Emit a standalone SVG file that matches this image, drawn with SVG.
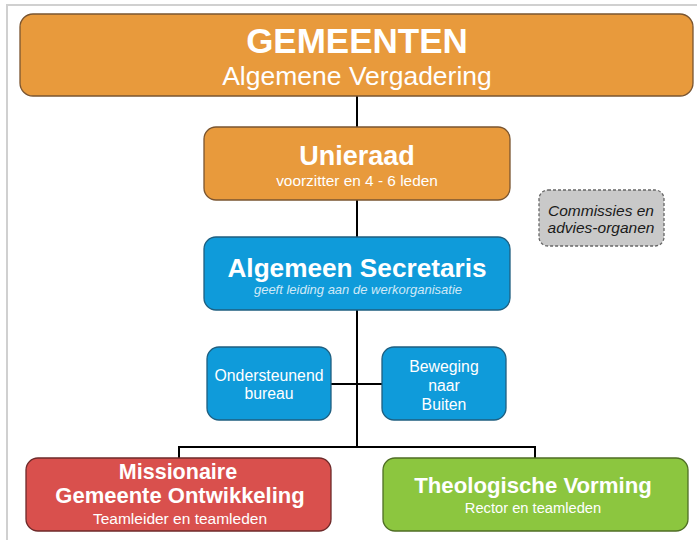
<svg xmlns="http://www.w3.org/2000/svg" width="697" height="540" viewBox="0 0 697 540">
<style>
text{font-family:"Liberation Sans",Arial,sans-serif;text-anchor:middle;fill:#fff}
.b{font-weight:bold}
.org{fill:#E89A3C;stroke:#7a5530;stroke-width:1.3}
.blu{fill:#0F9BDA;stroke:#1f5f80;stroke-width:1.3}
.red{fill:#D9504D;stroke:#6e2a2a;stroke-width:1.3}
.grn{fill:#8CC63F;stroke:#4f6e25;stroke-width:1.3}
.gry{fill:#C9C9C9;stroke:#666;stroke-width:1.3;stroke-dasharray:3 2}
.ln{stroke:#000;stroke-width:2;fill:none}
</style>
<rect x="0" y="0" width="697" height="540" fill="#fff"/>
<path d="M7,540 V5 H697" fill="none" stroke="#d0d0d0" stroke-width="2"/>
<g id="connectors">
<path class="ln" d="M357,96 V127 M357,200 V237 M357,310 V447 M331,384 H382 M179,458 V447 H535 V458"/>
</g>
<g id="gemeenten">
<rect class="org" x="20" y="14" width="673" height="82" rx="13"/>
<text class="b" x="357" y="53" font-size="35">GEMEENTEN</text>
<text x="357" y="85" font-size="26.5">Algemene Vergadering</text>
</g>
<g id="unieraad">
<rect class="org" x="204" y="127" width="306" height="73" rx="12"/>
<text class="b" x="357" y="165" font-size="27">Unieraad</text>
<text x="357" y="186" font-size="15.4">voorzitter en 4 - 6 leden</text>
</g>
<g id="commissies">
<rect class="gry" x="539" y="190" width="125" height="56" rx="9"/>
<text x="601" y="216" font-size="15.5" font-style="italic" style="fill:#1a1a1a">Commissies en</text>
<text x="601" y="233" font-size="15.5" font-style="italic" style="fill:#1a1a1a">advies-organen</text>
</g>
<g id="secretaris">
<rect class="blu" x="204" y="237" width="306" height="73" rx="12"/>
<text class="b" x="357" y="277" font-size="26.2">Algemeen Secretaris</text>
<text x="358" y="294" font-size="13" font-style="italic" style="fill:#cfe9f7">geeft leiding aan de werkorganisatie</text>
</g>
<g id="ondersteunend">
<rect class="blu" x="207" y="347" width="124" height="73" rx="12"/>
<text x="269" y="381" font-size="15.8">Ondersteunend</text>
<text x="269" y="399" font-size="15.8">bureau</text>
</g>
<g id="beweging">
<rect class="blu" x="382" y="347" width="124" height="73" rx="12"/>
<text x="444" y="372" font-size="15.8">Beweging</text>
<text x="444" y="391" font-size="15.8">naar</text>
<text x="444" y="410" font-size="15.8">Buiten</text>
</g>
<g id="missionaire">
<rect class="red" x="26" y="458" width="305" height="73" rx="12"/>
<text class="b" x="178" y="479" font-size="21.5">Missionaire</text>
<text class="b" x="180" y="503" font-size="22">Gemeente Ontwikkeling</text>
<text x="180" y="524" font-size="15.5">Teamleider en teamleden</text>
</g>
<g id="theologische">
<rect class="grn" x="383" y="458" width="305" height="73" rx="12"/>
<text class="b" x="533" y="493" font-size="22.2">Theologische Vorming</text>
<text x="533" y="513" font-size="14.7">Rector en teamleden</text>
</g>
</svg>
